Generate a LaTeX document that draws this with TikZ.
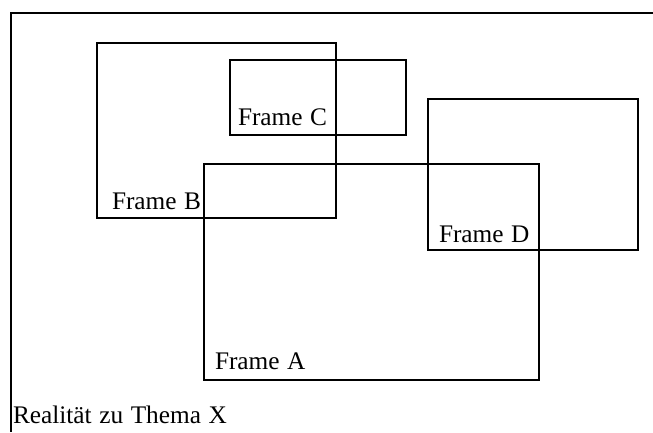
\documentclass[tikz,border=0pt]{standalone}
\usepackage{fontspec}
\setmainfont[WordSpace=1.2]{Liberation Serif}
\begin{document}
\begin{tikzpicture}[x=1pt,y=-1pt,
  frame/.style={draw=black, line width=2pt, inner sep=0pt, outer sep=0pt,
                anchor=north west, rectangle},
  lbl/.style={anchor=base west, inner sep=0pt, outer sep=0pt,
              font=\fontsize{25.3}{29}\selectfont},
  outer/.style={draw=black, line width=2.4pt}]
  \useasboundingbox (0,0) rectangle (653,432);

  % open border of the reality region (top and left sides)
  \coordinate (ortop) at (653,13);
  \coordinate (orcorner) at (11,13);
  \coordinate (orbottom) at (11,432);
  \draw[outer] (ortop) -- (orcorner) -- (orbottom);

  % frames
  \node[frame, minimum width=239pt, minimum height=175pt] (B) at (97,43) {};
  \node[frame, minimum width=176pt, minimum height=75pt]  (C) at (230,60) {};
  \node[frame, minimum width=335pt, minimum height=216pt] (A) at (204,164) {};
  \node[frame, minimum width=210pt, minimum height=151pt] (D) at (428,99) {};

  % labels
  \node[lbl] (la) at (215,369) {Frame A};
  \node[lbl] (lb) at (112,209) {Frame B};
  \node[lbl] (lc) at (238,125) {Frame C};
  \node[lbl] (ld) at (439,242) {Frame D};
  \node[lbl] (lr) at (13,423) {Realität zu Thema X};
\end{tikzpicture}
\end{document}
